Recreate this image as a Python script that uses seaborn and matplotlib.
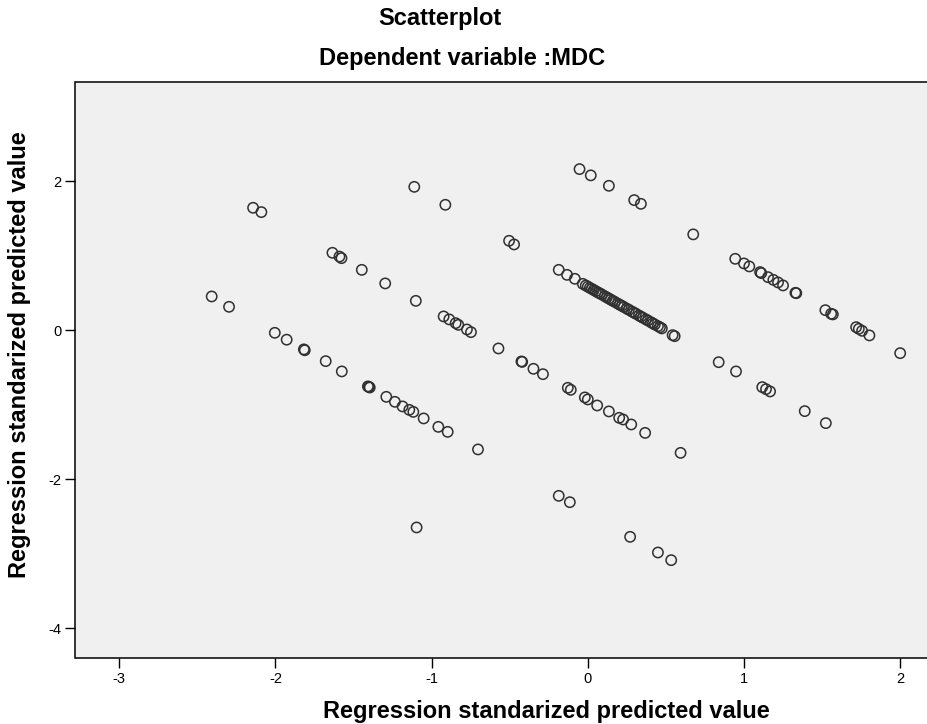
#!/usr/bin/env python3
# -*- coding: utf-8 -*-
"""
SPSS-style residual scatterplot: Dependent variable MDC
"""

import numpy as np
import pandas as pd
import matplotlib
matplotlib.use('Agg')
import matplotlib.pyplot as plt
import seaborn as sns

# ---- data, one diagonal band at a time ----
# lower-left band
band_a_x = [-2.408, -2.297, -2.004, -1.928, -1.818, -1.812, -1.678, -1.575,
            -1.408, -1.402, -1.396, -1.290, -1.235, -1.186, -1.143, -1.117,
            -1.051, -0.957, -0.897, -0.703, -1.096]
band_a_y = [0.452, 0.313, -0.036, -0.128, -0.258, -0.270, -0.416, -0.554,
            -0.755, -0.761, -0.770, -0.895, -0.962, -1.024, -1.070, -1.097,
            -1.185, -1.298, -1.365, -1.601, -2.648]

# second band (upper-left to centre)
band_b_x = [-2.143, -2.090, -1.635, -1.590, -1.577, -1.447, -1.297, -1.101,
            -0.923, -0.887, -0.846, -0.829, -0.774, -0.748, -0.572, -0.425,
            -0.420, -0.348, -0.287, -0.128, -0.109, -0.019, 0.000, 0.060,
            0.135, 0.201, 0.226, 0.278, 0.367, 0.594]
band_b_y = [1.642, 1.584, 1.038, 0.987, 0.966, 0.809, 0.627, 0.393,
            0.184, 0.144, 0.094, 0.071, 0.009, -0.027, -0.246, -0.420,
            -0.426, -0.519, -0.591, -0.774, -0.801, -0.903, -0.930, -1.011,
            -1.091, -1.177, -1.199, -1.266, -1.379, -1.647]

# isolated points in the top-left
band_c_x = [-1.111, -0.912, -0.504, -0.472]
band_c_y = [1.923, 1.682, 1.199, 1.150]

# top-centre points
band_d_x = [-0.053, 0.019, 0.135, 0.297, 0.340, 0.675]
band_d_y = [2.161, 2.077, 1.937, 1.745, 1.695, 1.285]

# the dense central line
dense_x = [-0.186, -0.133, -0.083, -0.032, -0.013, 0.000, 0.013, 0.026,
           0.038, 0.051, 0.064, 0.077, 0.090, 0.109, 0.122, 0.135, 0.147,
           0.160, 0.173, 0.192, 0.205, 0.218, 0.231, 0.250, 0.263, 0.282,
           0.295, 0.308, 0.327, 0.340, 0.353, 0.372, 0.385, 0.404, 0.417,
           0.429, 0.449, 0.462, 0.474, 0.543, 0.556]
dense_y = [0.809, 0.742, 0.689, 0.621, 0.599, 0.584, 0.568, 0.553,
           0.538, 0.523, 0.507, 0.493, 0.478, 0.455, 0.439, 0.424, 0.409,
           0.394, 0.379, 0.356, 0.341, 0.326, 0.310, 0.288, 0.273, 0.250,
           0.235, 0.220, 0.197, 0.181, 0.166, 0.144, 0.129, 0.106, 0.091,
           0.075, 0.054, 0.038, 0.023, -0.067, -0.081]

# right upper band
band_e_x = [0.944, 1.000, 1.034, 1.103, 1.111, 1.154, 1.188, 1.218, 1.250,
            1.329, 1.335, 1.521, 1.558, 1.569, 1.718, 1.735, 1.756, 1.803,
            2.000]
band_e_y = [0.957, 0.895, 0.855, 0.779, 0.765, 0.711, 0.675, 0.640, 0.600,
            0.501, 0.496, 0.268, 0.219, 0.211, 0.040, 0.017, -0.009, -0.071,
            -0.309]

# right lower band
band_f_x = [0.838, 0.949, 1.117, 1.141, 1.167, 1.389, 1.524]
band_f_y = [-0.430, -0.554, -0.765, -0.792, -0.823, -1.087, -1.248]

# bottom points
band_g_x = [-0.186, -0.115, 0.271, 0.449, 0.534]
band_g_y = [-2.224, -2.309, -2.774, -2.984, -3.087]

x_ticks = [-3, -2, -1, 0, 1, 2]
y_ticks = [-4, -2, 0, 2]

TITLE = 'Scatterplot'
SUBTITLE = 'Dependent variable :MDC'
AXIS_LABEL = 'Regression standarized predicted value'


def build_frame():
    """Stack all bands into one DataFrame."""
    xs = band_a_x + band_b_x + band_c_x + band_d_x + dense_x + band_e_x + band_f_x + band_g_x
    ys = band_a_y + band_b_y + band_c_y + band_d_y + dense_y + band_e_y + band_f_y + band_g_y
    return pd.DataFrame({'pred': xs, 'resid': ys})


def draw(df):
    sns.set_style('ticks', {'axes.facecolor': '#F0F0F0',
                            'axes.edgecolor': 'black',
                            'text.color': 'black',
                            'axes.labelcolor': 'black',
                            'xtick.color': 'black',
                            'ytick.color': 'black'})
    plt.rcParams['font.family'] = ['Liberation Sans', 'DejaVu Sans']
    plt.rcParams['axes.unicode_minus'] = False

    fig = plt.figure(figsize=(9.28, 7.24), dpi=100)
    # axes run off the right edge, as in the cropped original
    ax = fig.add_axes([75.5 / 928, 66 / 724, 1 - 75.5 / 928 + 0.002, 576 / 724])

    sns.scatterplot(data=df, x='pred', y='resid', ax=ax, s=55,
                    facecolor='none', edgecolor='#303030', linewidth=1.1)

    ax.set_xlim(-3.28, 2.19)
    ax.set_ylim(-4.4, 3.33)
    ax.set_xticks(x_ticks)
    ax.set_yticks(y_ticks)
    ax.tick_params(direction='out', length=7, width=1, labelsize=10.5,
                   colors='black', pad=3)
    ax.spines['right'].set_visible(False)
    for side in ['left', 'bottom', 'top']:
        ax.spines[side].set_linewidth(1.1)

    ax.set_xlabel(AXIS_LABEL, fontsize=17, fontweight='bold')
    ax.set_ylabel(AXIS_LABEL, fontsize=17, fontweight='bold')
    # the original plot is cropped on the right, so the labels sit off-centre
    ax.xaxis.set_label_coords(546 / 928, 1 - 700 / 724, transform=fig.transFigure)
    ax.yaxis.set_label_coords(31 / 928, 1 - 355 / 724, transform=fig.transFigure)

    fig.text(440 / 928, 1 - 18 / 724, TITLE, ha='center', va='center',
             fontsize=17, fontweight='bold')
    fig.text(462 / 928, 1 - 58 / 724, SUBTITLE, ha='center', va='center',
             fontsize=17, fontweight='bold')

    fig.savefig('out.png', dpi=100)


if __name__ == '__main__':
    draw(build_frame())
